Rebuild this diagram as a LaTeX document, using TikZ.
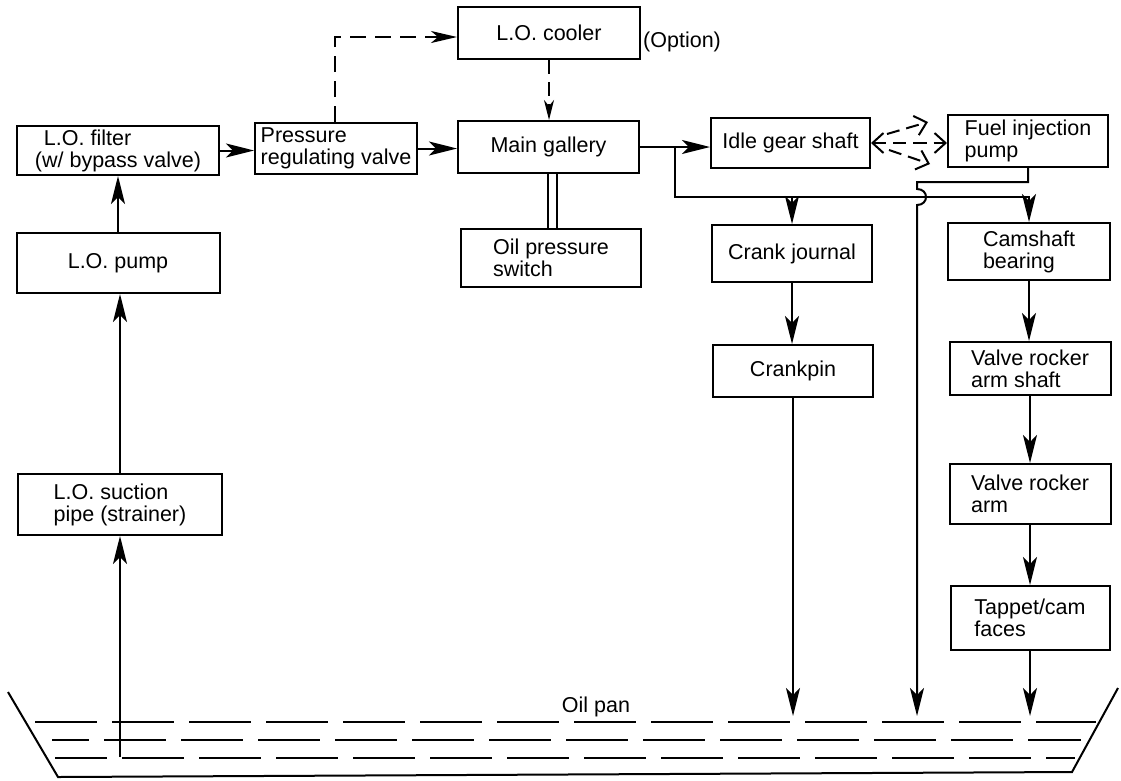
\documentclass[tikz,border=0pt]{standalone}
\usepackage{fontspec}
\setmainfont{Liberation Sans}
\usetikzlibrary{arrows.meta}
\tikzset{barbtip/.tip={Straight Barb[length=11pt,width=20pt,line width=2pt]}}
\begin{document}
\begin{tikzpicture}[x=1pt,y=-1pt,font=\fontsize{21.5}{22}\selectfont,
  box/.style={draw,line width=2pt,inner sep=0pt,align=left},
  bx/.style 2 args={minimum width=#1pt,minimum height=#2pt},
  conn/.style={line width=2pt},
  flow/.style={conn,-{Stealth[length=28pt,width=14pt,inset=7pt]}},
  dflow/.style={conn,dash pattern=on 16pt off 9pt,-{Stealth[length=26pt,width=12pt,inset=7pt]}},
  dflowb/.style={conn,dash pattern=on 14pt off 8pt,-{Stealth[length=20pt,width=10pt,inset=6pt]}},
  spray/.style={conn,dash pattern=on 13pt off 7pt},
  surface/.style={conn,dash pattern=on 62pt off 15pt}]
\useasboundingbox (0,0) rectangle (1121,780);

% boxes
\node[box,bx={202}{49}] (filter) at (118,150.5) {\hspace*{9pt}L.O. filter\\(w/ bypass valve)};
\node[box,bx={162}{51}] (prv) at (336,148.5) {Pressure\\regulating valve};
\node[box,bx={182}{52}] (cooler) at (549,33) {L.O. cooler};
\node[box,bx={181}{52}] (gallery) at (548.5,147) {Main gallery};
\node[box,bx={180}{58}] (switch) at (551,258) {Oil pressure\\switch};
\node[box,bx={159}{50}] (idle) at (790.5,143) {Idle gear shaft};
\node[box,bx={160}{52}] (fuel) at (1028,141) {Fuel injection\\pump};
\node[box,bx={160}{57}] (cj) at (792,253.5) {Crank journal};
\node[box,bx={162}{57}] (cam) at (1029,251.5) {Camshaft\\bearing};
\node[box,bx={160}{52}] (cp) at (793,371) {Crankpin};
\node[box,bx={161}{53}] (rs) at (1030,368.5) {Valve rocker\\arm shaft};
\node[box,bx={161}{60}] (ra) at (1030,494) {Valve rocker\\arm};
\node[box,bx={159}{64}] (tp) at (1030,618) {Tappet/cam\\faces};
\node[box,bx={203}{60}] (pump) at (118,263) {L.O. pump};
\node[box,bx={204}{61}] (suction) at (120,504.5) {L.O. suction\\pipe (strainer)};

% labels
\node[anchor=west,inner sep=0pt] (opt) at (643,42) {(Option)};
\node[inner sep=0pt] (panlbl) at (596,707) {Oil pan};

% oil pan
\draw[conn,line join=miter] (8,692) -- (58,777) -- (1072,772) -- (1118,688);
\draw[surface] (35,722) -- (1096,722);
\draw[surface,dash phase=25pt] (52,740) -- (1081,740);
\draw[surface,dash phase=10pt] (55,758) -- (1075,758);

% coordinates
\coordinate (surf) at (0,716);
\coordinate (suckbot) at (120,757);
\coordinate (dk) at (335,37);
\coordinate (dbl) at (552,0);
\coordinate (bA) at (675,147);
\coordinate (bB) at (675,197);
\coordinate (fA) at (917,182);
\coordinate (fB) at (917,189);
\coordinate (fC) at (917,205);
\coordinate (sU0) at (887,134);
\coordinate (sU) at (928,122);
\coordinate (sD0) at (889,150);
\coordinate (sD) at (930,164);

% left column
\draw[flow] (suckbot) -- (suckbot |- suction.south);
\draw[flow] (suction.north) -- (suction.north |- pump.south);
\draw[flow] (pump.north) -- (pump.north |- filter.south);
\draw[flow] (filter.east) -- (filter.east -| prv.west);
\draw[flow] (prv.east) -- (prv.east -| gallery.west);

% cooler
\draw[dflow] (prv.north -| dk) -- (dk) -- (dk -| cooler.west);
\draw[dflowb] (cooler.south) -- (cooler.south |- gallery.north);

% oil pressure switch
\draw[line width=2pt,double,double distance=7pt] (gallery.south -| dbl) -- (switch.north -| dbl);

% gallery to idle gear and branches
\draw[flow] (gallery.east) -- (gallery.east -| idle.west);
\draw[flow] (bA) -- (bB) -- (bB -| cam.north) -- (cam.north);
\draw[flow] (bB -| cj.north) -- (cj.north);

% spray idle gear <-> fuel pump
\draw[spray,{barbtip}-{barbtip}] (idle.east) -- (idle.east -| fuel.west);
\draw[spray,-{barbtip}] (sU0) -- (sU);
\draw[spray,-{barbtip}] (sD0) -- (sD);

% fuel pump drain with hop
\draw[flow] (fuel.south) -- (fuel.south |- fA) -- (fA) -- (fB) .. controls (929,189) and (929,205) .. (fC) -- (fC |- surf);

% crank
\draw[flow] (cj.south) -- (cj.south |- cp.north);
\draw[flow] (cp.south) -- (cp.south |- surf);

% valve train
\draw[flow] (cam.south) -- (cam.south |- rs.north);
\draw[flow] (rs.south) -- (rs.south |- ra.north);
\draw[flow] (ra.south) -- (ra.south |- tp.north);
\draw[flow] (tp.south) -- (tp.south |- surf);
\end{tikzpicture}
\end{document}
